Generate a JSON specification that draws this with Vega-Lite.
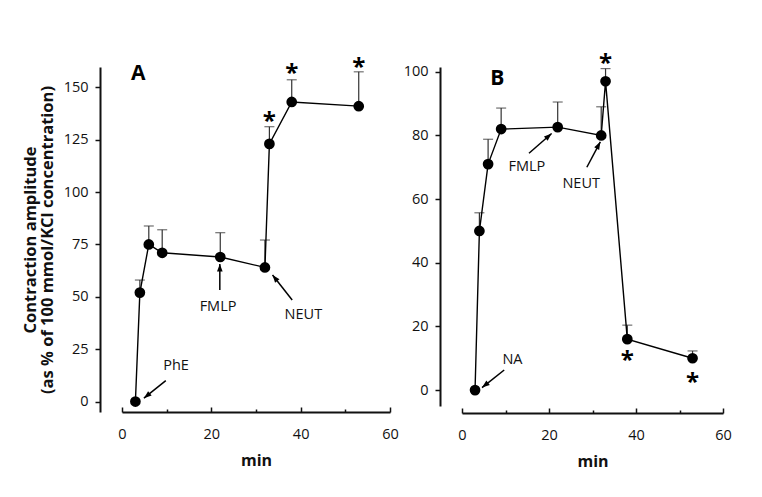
{
  "$schema": "https://vega.github.io/schema/vega-lite/v6.json",
  "autosize": {"type": "none"},
  "padding": {"left": 122, "top": 67, "right": 640, "bottom": 430},
  "background": "white",
  "config": {
    "view": {"stroke": null},
    "font": "Open Sans",
    "axis": {
      "grid": false,
      "domainColor": "#111",
      "domainWidth": 2,
      "tickColor": "#111",
      "tickWidth": 1.5,
      "labelFont": "Open Sans",
      "labelFontSize": 14.5,
      "labelColor": "#111",
      "labelFlush": false,
      "titleFont": "Open Sans",
      "titleColor": "#111",
      "titleFontWeight": "bold"
    }
  },
  "datasets": {
    "A": [
      {"min": 3, "amp": 0, "errTop": null},
      {"min": 4, "amp": 52, "errTop": 58},
      {"min": 6, "amp": 75, "errTop": 83.8},
      {"min": 9, "amp": 71, "errTop": 82},
      {"min": 22, "amp": 69, "errTop": 80.6},
      {"min": 32, "amp": 64, "errTop": 77.1},
      {"min": 33, "amp": 123, "errTop": 131.2},
      {"min": 38, "amp": 143, "errTop": 153.6},
      {"min": 53, "amp": 141, "errTop": 157.4}
    ],
    "B": [
      {"min": 3, "amp": 0, "errTop": null},
      {"min": 4, "amp": 50, "errTop": 55.7},
      {"min": 6, "amp": 71, "errTop": 78.8},
      {"min": 9, "amp": 82, "errTop": 88.6},
      {"min": 22, "amp": 82.6, "errTop": 90.5},
      {"min": 32, "amp": 80, "errTop": 89},
      {"min": 33, "amp": 97, "errTop": 101},
      {"min": 38, "amp": 16, "errTop": 20.4},
      {"min": 53, "amp": 10, "errTop": 12.3}
    ],
    "starsA": [
      {"min": 33, "amp": 135.7},
      {"min": 38, "amp": 158.6},
      {"min": 53, "amp": 161.7}
    ],
    "starsB": [
      {"min": 33, "amp": 104},
      {"min": 38, "amp": 10.7},
      {"min": 53, "amp": 3.8}
    ],
    "labelsA": [
      {"min": 12.1, "amp": 16.9, "label": "PhE"},
      {"min": 21.5, "amp": 45.3, "label": "FMLP"},
      {"min": 40.6, "amp": 41.2, "label": "NEUT"}
    ],
    "labelsB": [
      {"min": 11.6, "amp": 9.6, "label": "NA"},
      {"min": 14.9, "amp": 70.1, "label": "FMLP"},
      {"min": 27.4, "amp": 64.7, "label": "NEUT"}
    ],
    "arrowsA": [
      {"x1": 9.8, "y1": 10, "x2": 4.9, "y2": 1.6, "angle": 231},
      {"x1": 21.9, "y1": 53.3, "x2": 21.9, "y2": 65.7, "angle": 0},
      {"x1": 38.1, "y1": 48.5, "x2": 33.7, "y2": 60.4, "angle": 322}
    ],
    "arrowsB": [
      {"x1": 9.7, "y1": 6.3, "x2": 4.6, "y2": 0.8, "angle": 232},
      {"x1": 15.4, "y1": 74.4, "x2": 20.6, "y2": 80.6, "angle": 49},
      {"x1": 28.7, "y1": 70, "x2": 31.8, "y2": 78, "angle": 28}
    ],
    "panelA": [{"min": 3.65, "amp": 156.2, "label": "A"}],
    "panelB": [{"min": 8.1, "amp": 97.7, "label": "B"}]
  },
  "spacing": 72,
  "bounds": "flush",
  "hconcat": [
    {
      "width": 268,
      "height": 345,
      "layer": [
        {
          "data": {"name": "A"},
          "mark": {"type": "rule", "color": "#333", "strokeWidth": 1.2},
          "encoding": {
            "x": {
              "field": "min", "type": "quantitative",
              "scale": {"domain": [0, 60], "nice": false, "zero": false},
              "axis": {
                "values": [0, 10, 20, 30, 40, 50, 60],
                "labelExpr": "datum.value % 20 === 0 ? datum.label : ''",
                "tickSize": {"condition": {"test": "datum.value % 20 === 0", "value": -5}, "value": -3},
                "labelPadding": 20,
                "title": "min",
                "titleFontSize": 16,
                "titlePadding": 12
              }
            },
            "y": {
              "field": "amp", "type": "quantitative",
              "scale": {"domain": [-5, 159.7], "nice": false, "zero": false},
              "axis": {
                "values": [0, 12.5, 25, 37.5, 50, 62.5, 75, 87.5, 100, 112.5, 125, 137.5, 150],
                "labelExpr": "datum.value % 25 === 0 ? datum.label : ''",
                "tickSize": {"condition": {"test": "datum.value % 25 === 0", "value": 5}, "value": 3},
                "offset": 22,
                "labelPadding": 7,
                "title": ["Contraction amplitude", "(as % of 100 mmol/KCl concentration)"],
                "titleFontSize": 16.5,
                "titleLineHeight": 17,
                "titlePadding": 8
              }
            },
            "y2": {"field": "errTop"}
          }
        },
        {
          "data": {"name": "A"},
          "mark": {"type": "tick", "orient": "horizontal", "size": 10, "thickness": 1.2, "color": "#333"},
          "encoding": {
            "x": {"field": "min", "type": "quantitative"},
            "y": {"field": "errTop", "type": "quantitative"}
          }
        },
        {
          "data": {"name": "A"},
          "mark": {"type": "line", "color": "#000", "strokeWidth": 1.4},
          "encoding": {
            "x": {"field": "min", "type": "quantitative"},
            "y": {"field": "amp", "type": "quantitative"}
          }
        },
        {
          "data": {"name": "A"},
          "mark": {"type": "point", "shape": "circle", "filled": true, "color": "#000", "size": 115, "opacity": 1},
          "encoding": {
            "x": {"field": "min", "type": "quantitative"},
            "y": {"field": "amp", "type": "quantitative"}
          }
        },
        {
          "data": {"name": "starsA"},
          "mark": {"type": "text", "text": "*", "fontSize": 24, "fontWeight": "bold", "baseline": "middle", "dy": 5, "color": "#000"},
          "encoding": {
            "x": {"field": "min", "type": "quantitative"},
            "y": {"field": "amp", "type": "quantitative"}
          }
        },
        {
          "data": {"name": "arrowsA"},
          "mark": {"type": "rule", "color": "#000", "strokeWidth": 1.5},
          "encoding": {
            "x": {"field": "x1", "type": "quantitative"},
            "y": {"field": "y1", "type": "quantitative"},
            "x2": {"field": "x2"},
            "y2": {"field": "y2"}
          }
        },
        {
          "data": {"name": "arrowsA"},
          "mark": {"type": "point", "shape": "M0,0L0.8,2.2L-0.8,2.2Z", "filled": true, "color": "#000", "size": 49, "opacity": 1},
          "encoding": {
            "x": {"field": "x2", "type": "quantitative"},
            "y": {"field": "y2", "type": "quantitative"},
            "angle": {"field": "angle", "type": "quantitative", "scale": null}
          }
        },
        {
          "data": {"name": "labelsA"},
          "mark": {"type": "text", "fontSize": 14.5, "color": "#111", "baseline": "middle"},
          "encoding": {
            "x": {"field": "min", "type": "quantitative"},
            "y": {"field": "amp", "type": "quantitative"},
            "text": {"field": "label"}
          }
        },
        {
          "data": {"name": "panelA"},
          "mark": {"type": "text", "fontSize": 21, "fontWeight": "bold", "color": "#000", "baseline": "middle"},
          "encoding": {
            "x": {"field": "min", "type": "quantitative"},
            "y": {"field": "amp", "type": "quantitative"},
            "text": {"field": "label"}
          }
        }
      ]
    },
    {
      "width": 261,
      "height": 339,
      "layer": [
        {
          "data": {"name": "B"},
          "mark": {"type": "rule", "color": "#333", "strokeWidth": 1.2},
          "encoding": {
            "x": {
              "field": "min", "type": "quantitative",
              "scale": {"domain": [0, 60], "nice": false, "zero": false},
              "axis": {
                "values": [0, 10, 20, 30, 40, 50, 60],
                "labelExpr": "datum.value % 20 === 0 ? datum.label : ''",
                "tickSize": {"condition": {"test": "datum.value % 20 === 0", "value": -5}, "value": -3},
                "offset": 7,
                "labelPadding": 20,
                "title": "min",
                "titleFontSize": 16,
                "titlePadding": 12
              }
            },
            "y": {
              "field": "amp", "type": "quantitative",
              "scale": {"domain": [-5, 101.5], "nice": false, "zero": false},
              "axis": {
                "values": [0, 10, 20, 30, 40, 50, 60, 70, 80, 90, 100],
                "labelExpr": "datum.value % 20 === 0 ? datum.label : ''",
                "tickSize": {"condition": {"test": "datum.value % 20 === 0", "value": 5}, "value": 3},
                "offset": 22,
                "labelPadding": 7,
                "title": null
              }
            },
            "y2": {"field": "errTop"}
          }
        },
        {
          "data": {"name": "B"},
          "mark": {"type": "tick", "orient": "horizontal", "size": 10, "thickness": 1.2, "color": "#333"},
          "encoding": {
            "x": {"field": "min", "type": "quantitative"},
            "y": {"field": "errTop", "type": "quantitative"}
          }
        },
        {
          "data": {"name": "B"},
          "mark": {"type": "line", "color": "#000", "strokeWidth": 1.4},
          "encoding": {
            "x": {"field": "min", "type": "quantitative"},
            "y": {"field": "amp", "type": "quantitative"}
          }
        },
        {
          "data": {"name": "B"},
          "mark": {"type": "point", "shape": "circle", "filled": true, "color": "#000", "size": 115, "opacity": 1},
          "encoding": {
            "x": {"field": "min", "type": "quantitative"},
            "y": {"field": "amp", "type": "quantitative"}
          }
        },
        {
          "data": {"name": "starsB"},
          "mark": {"type": "text", "text": "*", "fontSize": 24, "fontWeight": "bold", "baseline": "middle", "dy": 5, "color": "#000"},
          "encoding": {
            "x": {"field": "min", "type": "quantitative"},
            "y": {"field": "amp", "type": "quantitative"}
          }
        },
        {
          "data": {"name": "arrowsB"},
          "mark": {"type": "rule", "color": "#000", "strokeWidth": 1.5},
          "encoding": {
            "x": {"field": "x1", "type": "quantitative"},
            "y": {"field": "y1", "type": "quantitative"},
            "x2": {"field": "x2"},
            "y2": {"field": "y2"}
          }
        },
        {
          "data": {"name": "arrowsB"},
          "mark": {"type": "point", "shape": "M0,0L0.8,2.2L-0.8,2.2Z", "filled": true, "color": "#000", "size": 49, "opacity": 1},
          "encoding": {
            "x": {"field": "x2", "type": "quantitative"},
            "y": {"field": "y2", "type": "quantitative"},
            "angle": {"field": "angle", "type": "quantitative", "scale": null}
          }
        },
        {
          "data": {"name": "labelsB"},
          "mark": {"type": "text", "fontSize": 14.5, "color": "#111", "baseline": "middle"},
          "encoding": {
            "x": {"field": "min", "type": "quantitative"},
            "y": {"field": "amp", "type": "quantitative"},
            "text": {"field": "label"}
          }
        },
        {
          "data": {"name": "panelB"},
          "mark": {"type": "text", "fontSize": 21, "fontWeight": "bold", "color": "#000", "baseline": "middle"},
          "encoding": {
            "x": {"field": "min", "type": "quantitative"},
            "y": {"field": "amp", "type": "quantitative"},
            "text": {"field": "label"}
          }
        }
      ]
    }
  ]
}
